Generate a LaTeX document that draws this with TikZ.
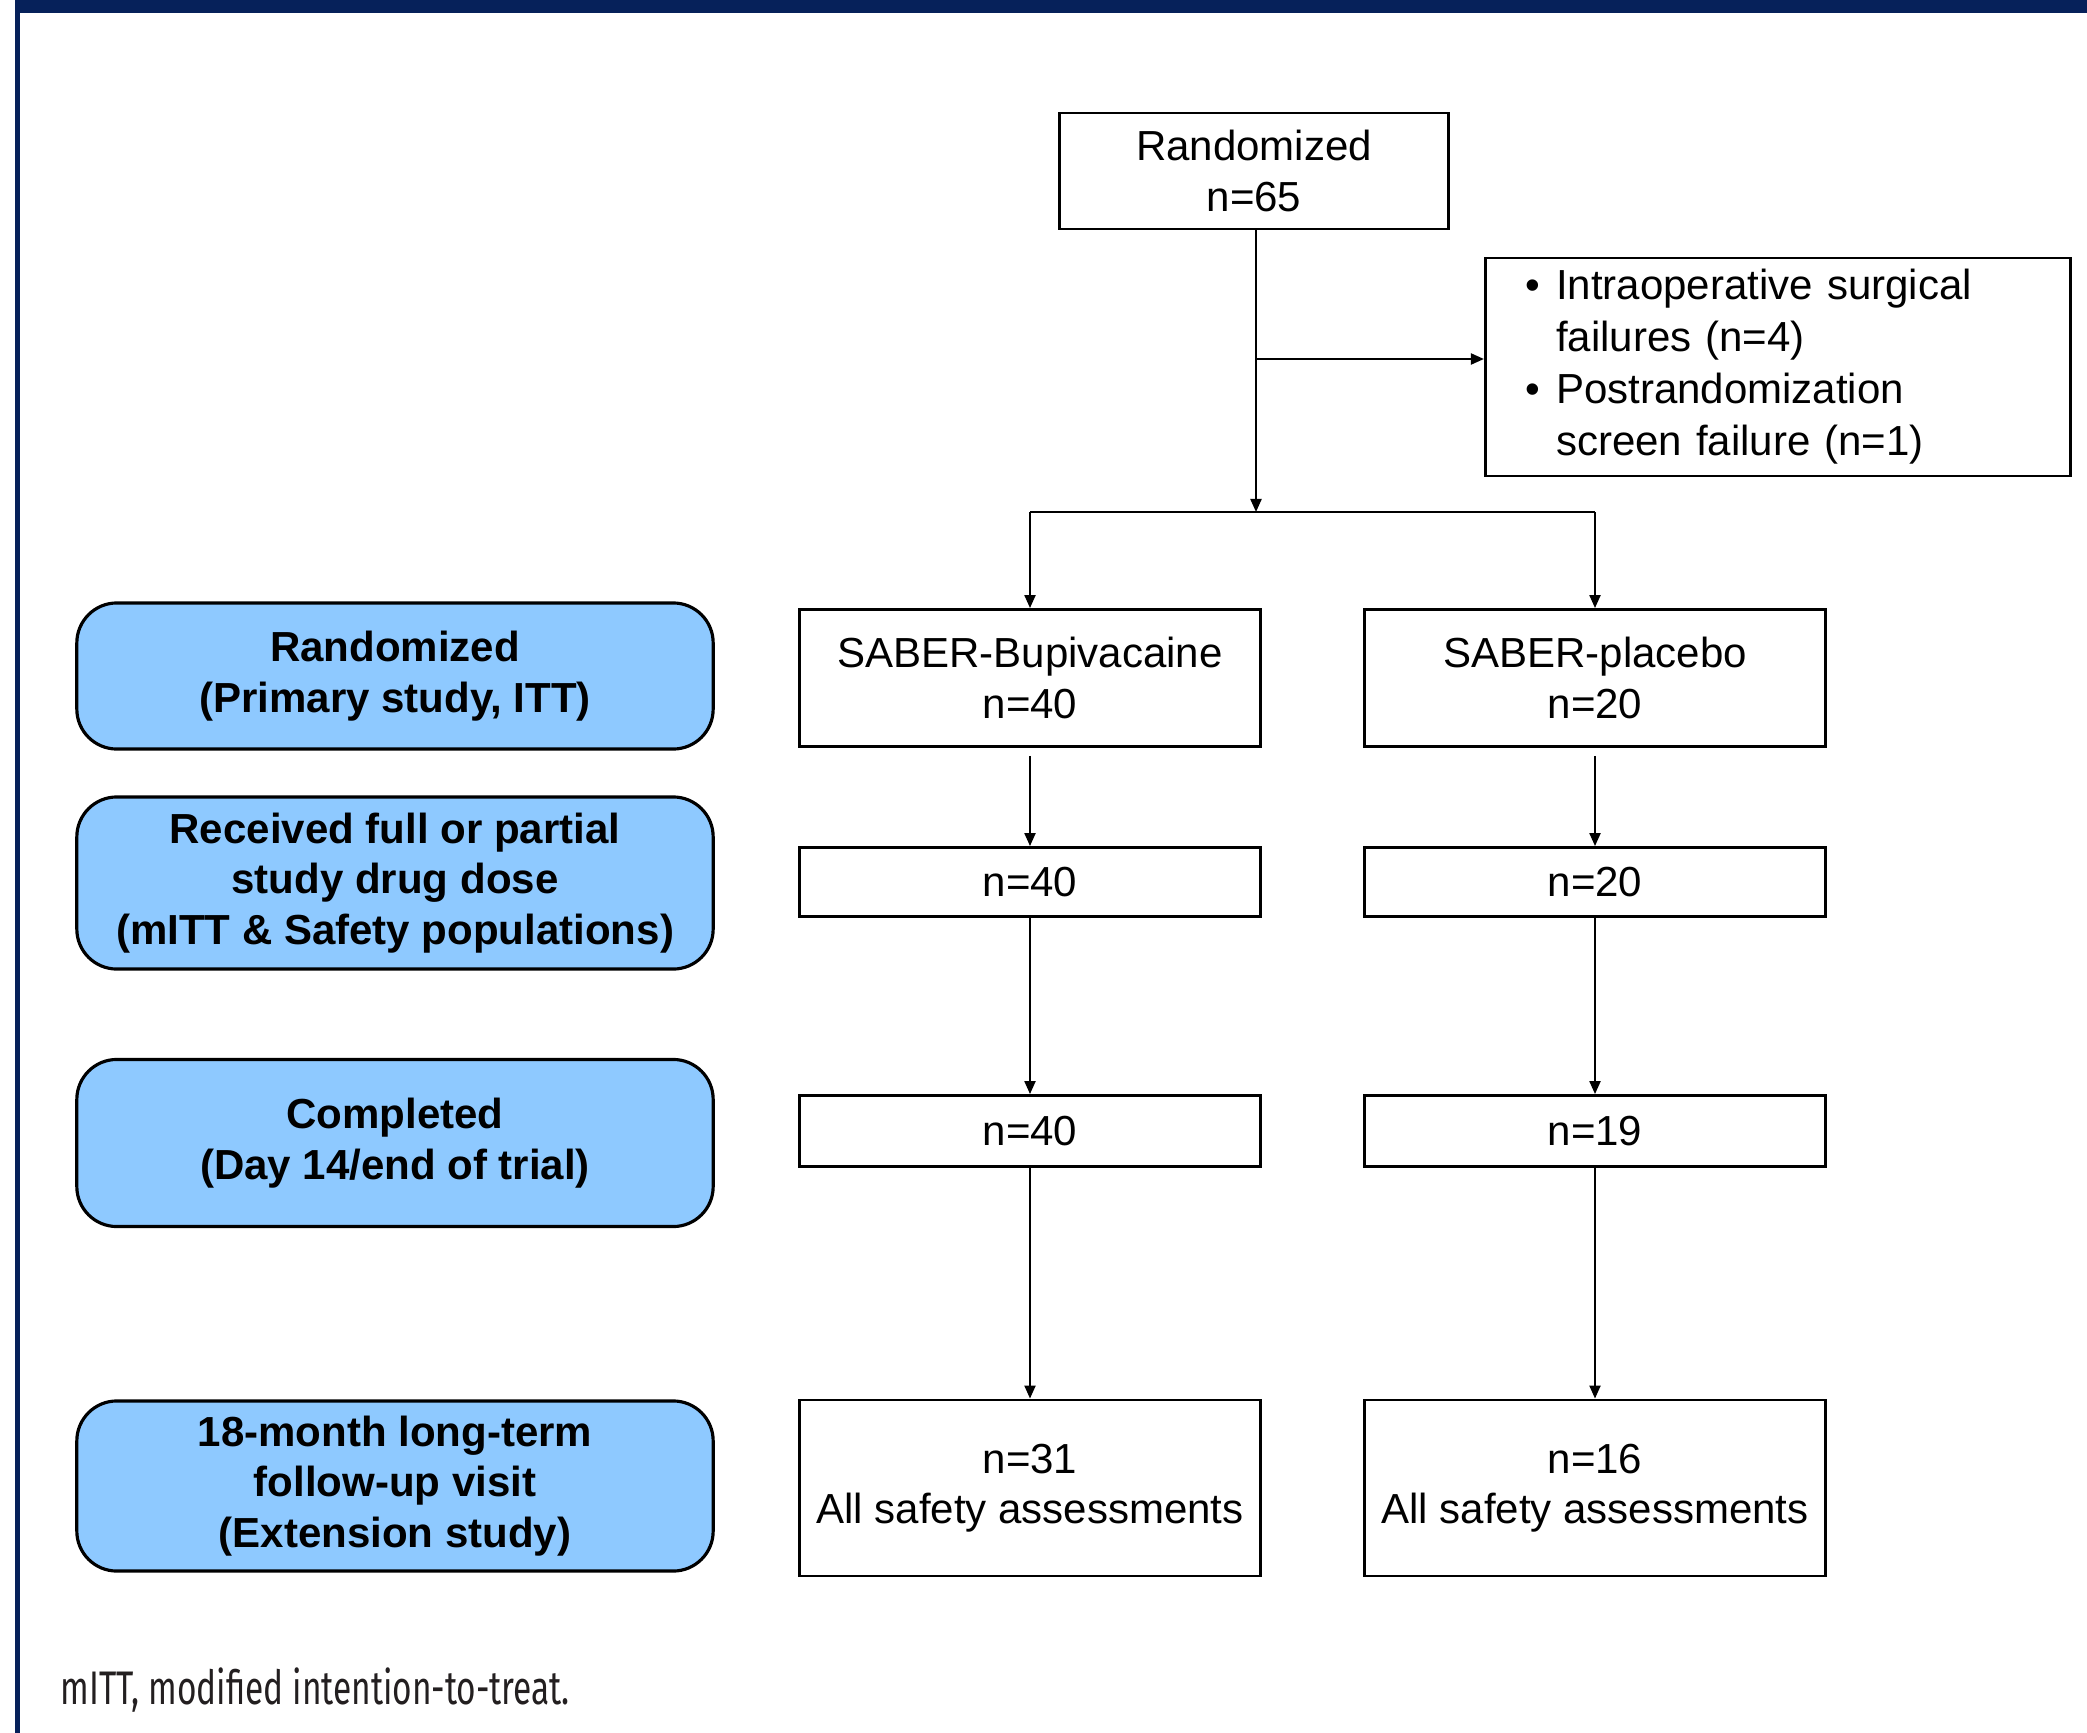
\documentclass[tikz,border=0pt]{standalone}
\usepackage{fontspec}
\setmainfont{Liberation Sans}
\newfontfamily\notefont[FakeStretch=0.71]{Fira Sans}
\usetikzlibrary{arrows.meta}
\definecolor{navy}{RGB}{6,33,90}
\definecolor{popblue}{RGB}{142,201,255}
\definecolor{notegray}{RGB}{35,31,32}

\begin{document}
\begin{tikzpicture}[x=0.01cm,y=-0.01cm,
    font=\fontsize{11.95}{14.4}\selectfont,
    box/.style={draw,line width=0.8pt,align=center,inner sep=0pt},
    arm/.style={box,minimum width=4.6cm},
    pop/.style={draw,line width=0.9pt,fill=popblue,rounded corners=0.4cm,
      align=center,inner sep=0pt,minimum width=6.36cm,
      font=\fontsize{11.95}{14.4}\selectfont\bfseries},
    flow/.style={line width=0.6pt,-{Triangle[length=0.13cm,width=0.11cm]}}]
  \useasboundingbox (0,0) rectangle (2087,1733);
  % frame
  \fill[navy] (15,0) rectangle (2087,13);
  \fill[navy] (15,0) rectangle (20,1733);

  % population labels
  \draw
    (395,676) node[pop,minimum height=1.46cm] (lrand){Randomized\\(Primary study, ITT)}
    (395,883) node[pop,minimum height=1.72cm] (ldose){Received full or partial\\study drug dose\\(mITT \& Safety populations)}
    (395,1143) node[pop,minimum height=1.67cm] (lcomp){Completed\\(Day 14/end of trial)}
    (395,1486) node[pop,minimum height=1.70cm] (lext){18-month long-term\\follow-up visit\\(Extension study)};

  % flow boxes
  \draw
    (1254,171) node[box,minimum width=3.89cm,minimum height=1.16cm] (rand){Randomized\\n=65}
    (1778,367) node[box,minimum width=5.85cm,minimum height=2.18cm,text width=5.05cm,
      align=left,inner xsep=0.4cm] (excl){\renewcommand{\arraystretch}{1.03}%
      \begin{tabular}{@{}l@{\hspace{0.16cm}}l@{}}
        \textbullet & Intraoperative surgical\\
                    & failures (n=4)\\
        \textbullet & Postrandomization\\
                    & screen failure (n=1)
      \end{tabular}}
    (1030,678) node[arm,minimum height=1.37cm] (bupi){SABER-Bupivacaine\\n=40}
    (1595,678) node[arm,minimum height=1.37cm] (plac){SABER-placebo\\n=20}
    (1030,882) node[arm,minimum height=0.69cm] (bdose){n=40}
    (1595,882) node[arm,minimum height=0.69cm] (pdose){n=20}
    (1030,1131) node[arm,minimum height=0.71cm] (bcomp){n=40}
    (1595,1131) node[arm,minimum height=0.71cm] (pcomp){n=19}
    (1030,1488) node[arm,minimum height=1.76cm] (bext){n=31\\All safety assessments}
    (1595,1488) node[arm,minimum height=1.76cm] (pext){n=16\\All safety assessments};

  \coordinate (branch) at (1256,359);
  \coordinate (split) at (1256,512);

  \begin{scope}[flow]
    \draw (rand.south -| split) -- (split);
    \draw (branch) -- (branch -| excl.west);
    \draw[-] (bupi.north |- split) -- (plac.north |- split);
    \draw (bupi.north |- split) -- (bupi);
    \draw (plac.north |- split) -- (plac);
    \draw[shorten <=0.08cm] (bupi) -- (bdose);
    \draw[shorten <=0.08cm] (plac) -- (pdose);
    \draw (bdose) -- (bcomp);
    \draw (pdose) -- (pcomp);
    \draw (bcomp) -- (bext);
    \draw (pcomp) -- (pext);
  \end{scope}

  % footnote
  \node[anchor=base west,inner sep=0pt,text=notegray,
    font=\notefont\fontsize{13.4}{16}\selectfont] (note) at (60,1704)
    {mITT, modified intention-to-treat.};
\end{tikzpicture}
\end{document}
